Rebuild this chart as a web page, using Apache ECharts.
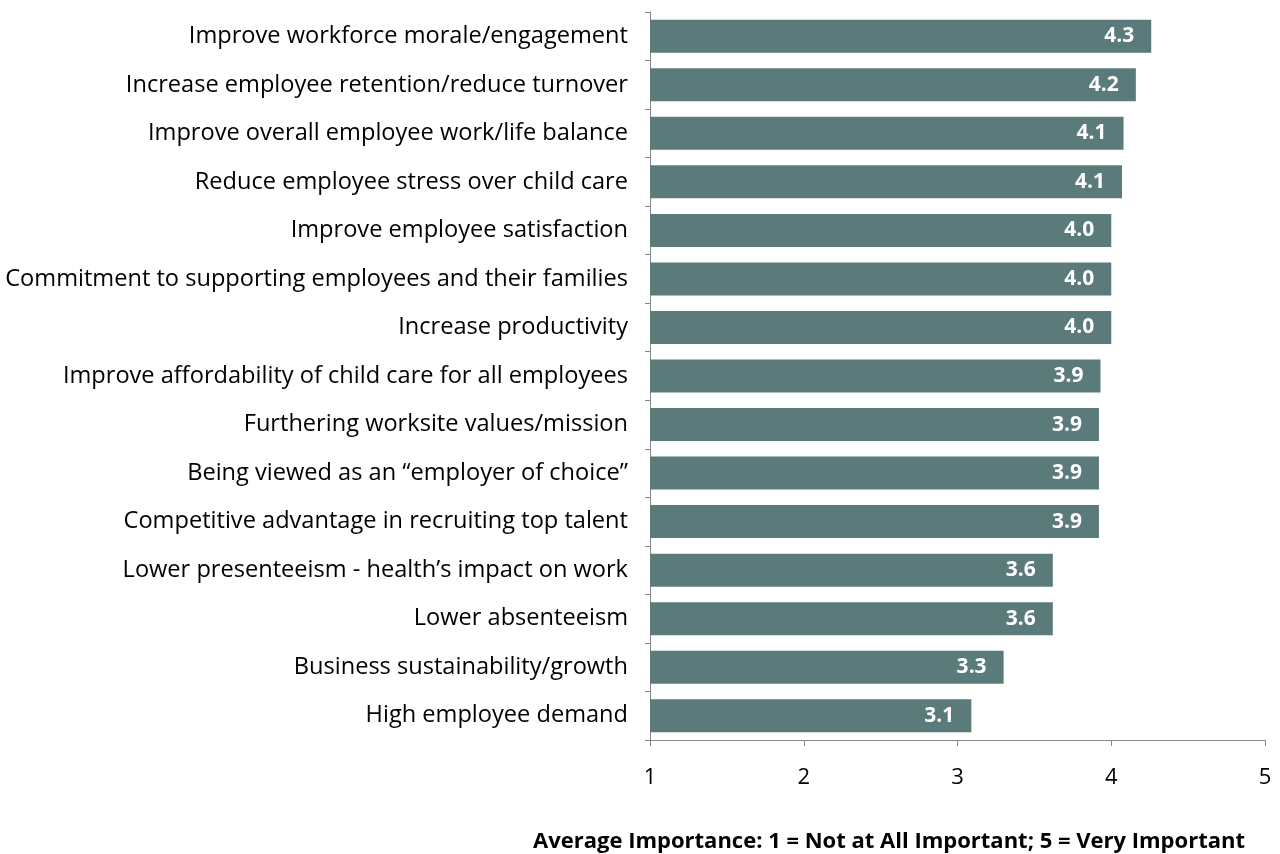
<!DOCTYPE html>
<html>
<head>
<meta charset="utf-8">
<script src="https://cdn.jsdelivr.net/npm/echarts@6/dist/echarts.min.js"></script>
<style>
  html, body { margin: 0; padding: 0; background: #ffffff; }
  #chart { width: 1280px; height: 854px; }
</style>
</head>
<body>
<div id="chart"></div>
<script>
// Reasons for offering child care benefits, ranked by average importance
const categories = [
  'Improve workforce morale/engagement',
  'Increase employee retention/reduce turnover',
  'Improve overall employee work/life balance',
  'Reduce employee stress over child care',
  'Improve employee satisfaction',
  'Commitment to supporting employees and their families',
  'Increase productivity',
  'Improve affordability of child care for all employees',
  'Furthering worksite values/mission',
  'Being viewed as an \u201Cemployer of choice\u201D',
  'Competitive advantage in recruiting top talent',
  'Lower presenteeism - health\u2019s impact on work',
  'Lower absenteeism',
  'Business sustainability/growth',
  'High employee demand'
];
const averageImportance = [4.26, 4.16, 4.08, 4.07, 4.0, 4.0, 4.0, 3.93, 3.92, 3.92, 3.92, 3.62, 3.62, 3.30, 3.09];
const scaleTicks = [1, 2, 3, 4, 5];
const axisTitle = 'Average Importance: 1 = Not at All Important; 5 = Very Important';

const FONT = '"Open Sans", "Liberation Sans", sans-serif';
const chart = echarts.init(document.getElementById('chart'));

chart.setOption({
  animation: false,
  backgroundColor: '#ffffff',
  grid: { left: 650, right: 15, top: 12, bottom: 114, containLabel: false },
  title: {
    text: axisTitle,
    right: 30,
    top: 826,
    textStyle: { fontFamily: FONT, fontSize: 22, fontWeight: 'bold', color: '#000000' }
  },
  xAxis: {
    type: 'value',
    min: scaleTicks[0],
    max: scaleTicks[scaleTicks.length - 1],
    interval: 1,
    splitLine: { show: false },
    axisLine: { show: true, lineStyle: { color: '#868686', width: 1 } },
    axisTick: { show: true, length: 6, lineStyle: { color: '#868686' } },
    axisLabel: { fontFamily: FONT, fontSize: 22, color: '#000000', margin: 27 }
  },
  yAxis: {
    type: 'category',
    data: categories,
    inverse: true,
    axisLine: { show: true, lineStyle: { color: '#868686', width: 1 } },
    axisTick: { show: true, length: 5, lineStyle: { color: '#868686' } },
    axisLabel: { fontFamily: FONT, fontSize: 23.6, color: '#000000', margin: 22 }
  },
  series: [{
    type: 'bar',
    data: averageImportance,
    barCategoryGap: '32%',
    itemStyle: { color: '#5B7B7A' },
    label: {
      show: true,
      position: 'insideRight',
      distance: 17,
      formatter: p => p.value.toFixed(1),
      fontFamily: FONT,
      fontSize: 21,
      fontWeight: 'bold',
      color: '#ffffff'
    }
  }]
});
</script>
</body>
</html>
